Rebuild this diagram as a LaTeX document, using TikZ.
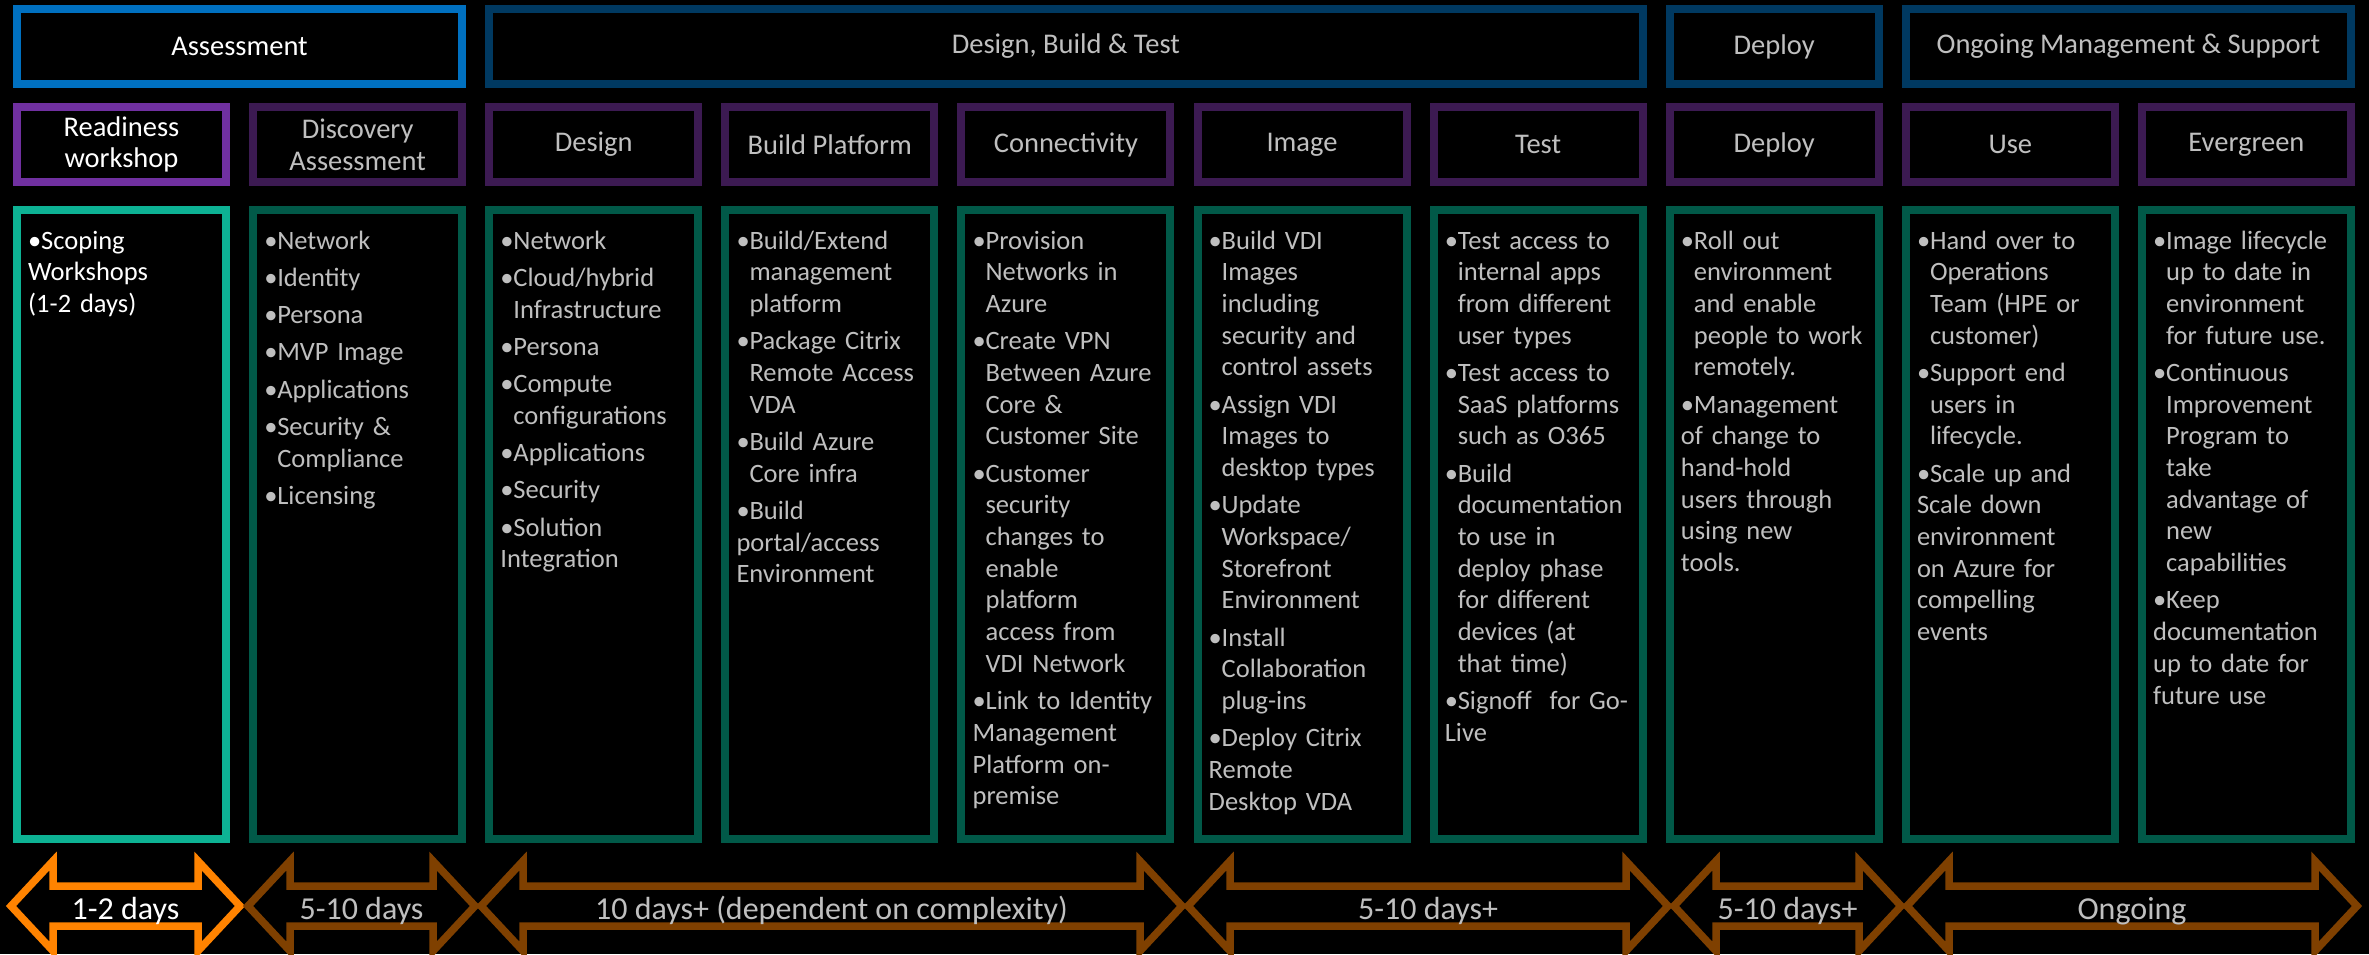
\documentclass[tikz,border=0pt]{standalone}
\usepackage{fontspec}
\setmainfont{Carlito}
\usetikzlibrary{positioning}

\definecolor{asmblue}{RGB}{0,112,192}
\definecolor{phaseblue}{RGB}{0,57,97}
\definecolor{hipurple}{RGB}{112,48,160}
\definecolor{stagepurple}{RGB}{60,26,82}
\definecolor{hiteal}{RGB}{13,178,148}
\definecolor{workgreen}{RGB}{1,89,72}
\definecolor{hiorange}{RGB}{255,131,0}
\definecolor{timebrown}{RGB}{127,64,0}
\definecolor{softgray}{RGB}{191,191,191}

% bullet points with hanging lines
\newcommand{\firstbul}{\parskip=5.6pt\hangindent=13pt\hangafter=1\noindent\makebox[13pt][l]{•}}
\newcommand{\bul}{\par\firstbul}

\begin{document}
\begin{tikzpicture}[x=1pt, y=-1pt,
	phasebox/.style={draw=phaseblue, line width=8pt, minimum height=75pt, inner sep=0pt, text=softgray, font=\fontsize{28.5}{31.7}\selectfont},
	phasehi/.style={phasebox, draw=asmblue, text=white},
	stagebox/.style={draw=stagepurple, line width=8pt, minimum width=209pt, minimum height=75pt, inner sep=0pt, align=center, text=softgray, font=\fontsize{28.5}{31.7}\selectfont},
	stagehi/.style={stagebox, draw=hipurple, text=white},
	workbox/.style={draw=workgreen, line width=8pt, minimum width=209pt, minimum height=629pt, inner sep=0pt},
	workhi/.style={workbox, draw=hiteal},
	worktext/.style={anchor=base west, inner sep=0pt, text width=194pt, align=left, text=softgray, font=\fontsize{26.5}{31.7}\selectfont},
	timeline/.style={line width=7.5pt, line join=miter},
	timelabel/.style={anchor=base, inner sep=0pt, font=\fontsize{32}{36}\selectfont}]
	\fill[black] (0,0) rectangle (2369,954);
	\useasboundingbox (0,0) rectangle (2369,954);

	% phases
	\node[phasehi, minimum width=445pt] (assess) at (239.5,46.5) {Assessment};
	\node[phasebox, minimum width=1153.4pt] (dbt) at (1065.9,46.5) {Design, Build \& Test};
	\node[phasebox, minimum width=209pt] (deployphase) at (1774.2,46.5) {Deploy};
	\node[phasebox, minimum width=445pt] (ongoing) at (2128.4,46.5) {Ongoing Management \& Support};

	% stages
	\node[stagehi] (s0) at (121.5,144.5) {Readiness\\workshop};
	\node[stagebox] (s1) at (357.6,144.5) {Discovery\\Assessment};
	\node[stagebox] (s2) at (593.7,144.5) {Design};
	\node[stagebox] (s3) at (829.8,144.5) {Build Platform};
	\node[stagebox] (s4) at (1065.9,144.5) {Connectivity};
	\node[stagebox] (s5) at (1302.0,144.5) {Image};
	\node[stagebox] (s6) at (1538.1,144.5) {Test};
	\node[stagebox] (s7) at (1774.2,144.5) {Deploy};
	\node[stagebox] (s8) at (2010.3,144.5) {Use};
	\node[stagebox] (s9) at (2246.4,144.5) {Evergreen};

	% work boxes
	\node[workhi] (w0) at (121.5,524.5) {};
	\node[workbox] (w1) at (357.6,524.5) {};
	\node[workbox] (w2) at (593.7,524.5) {};
	\node[workbox] (w3) at (829.8,524.5) {};
	\node[workbox] (w4) at (1065.9,524.5) {};
	\node[workbox] (w5) at (1302.0,524.5) {};
	\node[workbox] (w6) at (1538.1,524.5) {};
	\node[workbox] (w7) at (1774.2,524.5) {};
	\node[workbox] (w8) at (2010.3,524.5) {};
	\node[workbox] (w9) at (2246.4,524.5) {};

	\node[worktext, text=white] (t0) at ([xshift=15pt,yshift=-43pt]w0.north west) {\firstbul Scoping\newline Workshops\newline (1-2 days)};
	\node[worktext] (t1) at ([xshift=15pt,yshift=-43pt]w1.north west) {\firstbul Network \bul Identity \bul Persona \bul MVP Image \bul Applications \bul Security \&\newline Compliance \bul Licensing};
	\node[worktext] (t2) at ([xshift=15pt,yshift=-43pt]w2.north west) {\firstbul Network \bul Cloud/hybrid\newline Infrastructure \bul Persona \bul Compute\newline configurations \bul Applications \bul Security \bul Solution\newline Integration};
	\node[worktext] (t3) at ([xshift=15pt,yshift=-43pt]w3.north west) {\firstbul Build/Extend\newline management\newline platform \bul Package Citrix\newline Remote Access\newline VDA \bul Build Azure\newline Core infra \bul Build\newline portal/access\newline Environment};
	\node[worktext] (t4) at ([xshift=15pt,yshift=-43pt]w4.north west) {\firstbul Provision\newline Networks in\newline Azure \bul Create VPN\newline Between Azure\newline Core \&\newline Customer Site \bul Customer\newline security\newline changes to\newline enable\newline platform\newline access from\newline VDI Network \bul Link to Identity\newline Management\newline Platform on-\newline premise};
	\node[worktext] (t5) at ([xshift=15pt,yshift=-43pt]w5.north west) {\firstbul Build VDI\newline Images\newline including\newline security and\newline control assets \bul Assign VDI\newline Images to\newline desktop types \bul Update\newline Workspace/\newline Storefront\newline Environment \bul Install\newline Collaboration\newline plug-ins \bul Deploy Citrix\newline Remote\newline Desktop VDA};
	\node[worktext] (t6) at ([xshift=15pt,yshift=-43pt]w6.north west) {\firstbul Test access to\newline internal apps\newline from different\newline user types \bul Test access to\newline SaaS platforms\newline such as O365 \bul Build\newline documentation\newline to use in\newline deploy phase\newline for different\newline devices (at\newline that time) \bul Signoff\ \ for Go-\newline Live};
	\node[worktext] (t7) at ([xshift=15pt,yshift=-43pt]w7.north west) {\firstbul Roll out\newline environment\newline and enable\newline people to work\newline remotely. \bul Management\newline of change to\newline hand-hold\newline users through\newline using new\newline tools.};
	\node[worktext] (t8) at ([xshift=15pt,yshift=-43pt]w8.north west) {\firstbul Hand over to\newline Operations\newline Team (HPE or\newline customer) \bul Support end\newline users in\newline lifecycle. \bul Scale up and\newline Scale down\newline environment\newline on Azure for\newline compelling\newline events};
	\node[worktext] (t9) at ([xshift=15pt,yshift=-43pt]w9.north west) {\firstbul Image lifecycle\newline up to date in\newline environment\newline for future use. \bul Continuous\newline Improvement\newline Program to\newline take\newline advantage of\newline new\newline capabilities \bul Keep\newline documentation\newline up to date for\newline future use};

	% timeline
	\foreach \a/\b/\c/\f/\t [count=\i] in {8/243/hiorange/white/{1-2 days}, 245/478/timebrown/softgray/{5-10 days}, 478/1185/timebrown/softgray/{10 days+ (dependent on complexity)}, 1185/1671/timebrown/softgray/{5-10 days+}, 1671/1904/timebrown/softgray/{5-10 days+}, 1904/2360/timebrown/softgray/{Ongoing}} {
		\draw[timeline, draw=\c] (\a+3,906) -- (\a+45,861) -- (\a+45,886) -- (\b-45,886) -- (\b-45,861) -- (\b-3,906) -- (\b-45,951) -- (\b-45,926) -- (\a+45,926) -- (\a+45,951) -- cycle;
		\node[timelabel, text=\f] (d\i) at ({(\a+\b)/2},919) {\t};
	}
\end{tikzpicture}
\end{document}
